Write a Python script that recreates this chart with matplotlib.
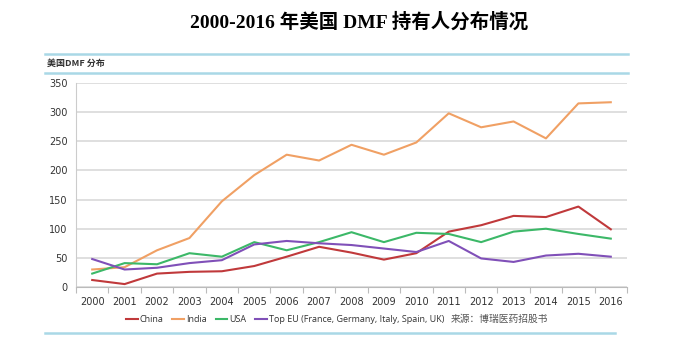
import matplotlib
matplotlib.use("Agg")
import matplotlib.pyplot as plt
from matplotlib.lines import Line2D

years = [str(y) for y in range(2000, 2017)]
china = [12, 5, 23, 26, 27, 36, 52, 69, 59, 47, 58, 95, 106, 122, 120, 138, 99]
india = [30, 34, 63, 84, 147, 192, 227, 217, 244, 227, 248, 298, 274, 284, 255, 315, 317]
usa = [23, 41, 39, 58, 52, 77, 63, 77, 94, 77, 93, 91, 77, 95, 100, 91, 83]
top_eu = [48, 30, 33, 41, 46, 73, 79, 75, 72, 66, 60, 79, 49, 43, 54, 57, 52]
series_names = ["China", "India", "USA", "Top EU (France, Germany, Italy, Spain, UK)"]
yticks = [0, 50, 100, 150, 200, 250, 300, 350]

colors = ["#c0393b", "#f0a064", "#3cb868", "#8050b8"]

W, H = 700, 338
fig = plt.figure(figsize=(W / 100, H / 100), dpi=100)
fig.patch.set_facecolor("white")

def fx(px):
    return px / W

def fy(py):
    return 1 - py / H

ax = fig.add_axes([fx(76), fy(287), fx(627) - fx(76), fy(83) - fy(287)])
x = list(range(len(years)))
for vals, c in zip([china, india, usa, top_eu], colors):
    ax.plot(x, vals, color=c, lw=1.5, solid_joinstyle="round")

ax.set_xlim(-0.5, len(years) - 0.5)
ax.set_ylim(0, 350)
ax.set_yticks(yticks)
ax.set_yticklabels([str(v) for v in yticks], fontsize=7, color="#333333", family="DejaVu Sans")
ax.set_xticks(x)
ax.set_xticklabels(years, fontsize=7, color="#333333", family="DejaVu Sans")
ax.tick_params(axis="x", length=0, pad=7)
ax.tick_params(axis="y", length=0, pad=6)
# boundary tick marks
ax.set_xticks([i - 0.5 for i in range(len(years) + 1)], minor=True)
ax.tick_params(axis="x", which="minor", length=4, color="#bbbbbb", width=0.8)
ax.grid(axis="y", color="#d9d9d9", lw=1.2)
ax.set_axisbelow(True)
for s in ["top", "right"]:
    ax.spines[s].set_visible(False)
ax.spines["left"].set_color("#cccccc")
ax.spines["bottom"].set_color("#bbbbbb")

# title
fig.text(fx(359), fy(22), "2000-2016 年美国 DMF 持有人分布情况", ha="center", va="center",
         fontsize=14, fontweight="bold", family=["Liberation Serif", "Noto Sans CJK SC"])

# decorative blue lines
blue = "#a9d8e6"
for (x0, x1, yy) in [(45, 628, 54), (45, 628, 73), (45, 615, 333)]:
    fig.add_artist(Line2D([fx(x0), fx(x1)], [fy(yy), fy(yy)], color=blue, lw=1.8,
                          transform=fig.transFigure))

fig.text(fx(47), fy(63.5), "美国DMF 分布", ha="left", va="center", fontsize=6.5,
         fontweight="bold", style="italic", color="#333333",
         family=["Noto Sans CJK SC", "DejaVu Sans"])

handles = [Line2D([], [], color=c, lw=1.5) for c in colors]
leg = fig.legend(handles, series_names, loc="center", bbox_to_anchor=(fx(285), fy(320)),
                 ncol=4, frameon=False, handlelength=1.3, handletextpad=0.2,
                 columnspacing=1.0, prop={"family": "Open Sans", "size": 6.5})
for t in leg.get_texts():
    t.set_color("#333333")

fig.text(fx(451), fy(319), "来源：博瑞医药招股书", ha="left", va="center", fontsize=7,
         color="#555555", family=["Noto Sans CJK SC", "DejaVu Sans"])

fig.savefig("out.png", dpi=100, facecolor="white")
